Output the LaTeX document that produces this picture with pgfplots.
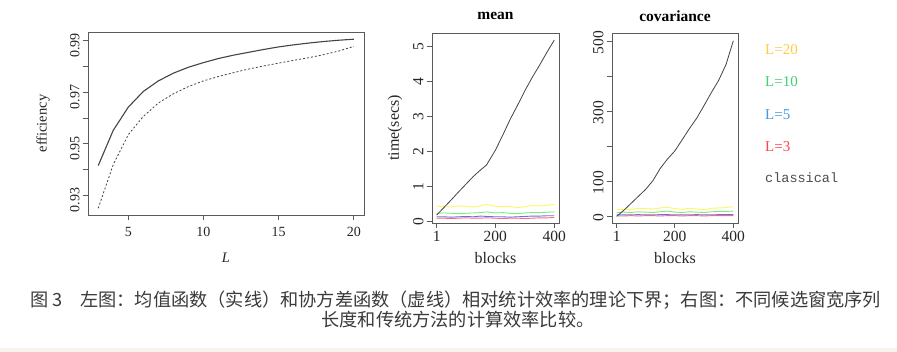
\documentclass[border=0pt]{standalone}
\usepackage{fontspec}
\setmainfont{Liberation Serif}
\newfontfamily\cjk{Noto Sans CJK SC}
\newfontfamily\monof{Liberation Mono}
\usepackage{pgfplots}
\pgfplotsset{compat=1.18}
\definecolor{axgray}{HTML}{5A5A5A}
\definecolor{linegray}{HTML}{444444}
\definecolor{ly}{HTML}{FFF566}
\definecolor{lg}{HTML}{77EE77}
\definecolor{lb}{HTML}{6A6AFF}
\definecolor{lr}{HTML}{FF6A6A}
\definecolor{ty}{HTML}{FFCC44}
\definecolor{tg}{HTML}{44CC77}
\definecolor{tb}{HTML}{4499DD}
\definecolor{tr}{HTML}{FF4455}
\definecolor{band}{HTML}{F7F3EF}
\definecolor{captxt}{HTML}{3A3A3A}
\pgfplotsset{rstyle/.style={
  scale only axis, anchor=south west,
  axis line style={axgray, line width=0.8pt},
  every tick/.style={axgray, line width=0.8pt},
  tick align=outside, major tick length=5pt,
  xtick pos=bottom, ytick pos=left,
  minor tick num=0, scaled ticks=false,
  /pgf/number format/assume math mode=true,
  yticklabel style={rotate=90},
  tick label style={text=black!85},
  label style={text=black!85},
}}
\pgfplotstableread{
x    cl     y20   g10   b5    r3
1    0.17   0.42  0.22  0.12  0.08
25   0.38   0.41  0.23  0.12  0.08
50   0.60   0.40  0.22  0.11  0.07
75   0.83   0.43  0.21  0.12  0.08
100  1.05   0.42  0.22  0.13  0.09
125  1.27   0.40  0.23  0.12  0.08
150  1.46   0.44  0.24  0.14  0.08
170  1.60   0.47  0.26  0.13  0.09
200  2.02   0.42  0.23  0.12  0.08
225  2.45   0.41  0.24  0.12  0.07
250  2.90   0.42  0.22  0.11  0.08
275  3.30   0.38  0.21  0.12  0.08
300  3.72   0.41  0.23  0.13  0.07
325  4.10   0.44  0.24  0.14  0.08
350  4.45   0.43  0.24  0.14  0.09
375  4.82   0.45  0.25  0.15  0.09
400  5.17   0.48  0.26  0.15  0.10
}\meantab
\pgfplotstableread{
x    cl    y20  g10  b5  r3
1    1     20   12   5   2
25   18    21   13   5   2
50   38    20   12   5   3
75   58    24   14   6   2
100  78    23   13   5   3
125  103   22   12   5   3
150  138   25   14   6   2
175  165   27   16   6   3
200  188   23   13   5   3
225  220   21   12   5   2
250  252   24   14   5   3
275  282   22   13   6   3
300  318   20   12   5   2
325  355   24   14   5   3
350  390   25   15   6   3
375  435   26   15   6   3
400  503   29   16   6   3
}\covtab
\begin{document}
\begin{tikzpicture}
\fill[white] (0pt,0pt) rectangle (897pt,352pt);
\fill[band] (0pt,0pt) rectangle (897pt,4pt);
\path[use as bounding box] (0pt,0pt) rectangle (897pt,352pt);
% left panel
\begin{axis}[rstyle, at={(88pt,137pt)}, width=276pt, height=183pt,
  xmin=2.32, xmax=20.68, ymin=0.9223, ymax=0.9934,
  xtick={5,10,15,20},
  ytick={0.93,0.94,0.95,0.96,0.97,0.98,0.99},
  yticklabels={0.93,,0.95,,0.97,,0.99},
  tick label style={font=\fontsize{14}{14}\selectfont},
  yticklabel style={xshift=-5pt},
  xticklabel style={yshift=-4pt},
  xlabel={\textit{L}}, ylabel={efficiency},
  label style={font=\fontsize{14.5}{14.5}\selectfont},
  xlabel style={at={(axis description cs:0.5,-0.235)}, anchor=center},
  ylabel style={at={(axis description cs:-0.163,0.5)}, anchor=center, rotate=0},
]
\addplot[linegray, line width=1.1pt] coordinates {
(3,0.9415)(4,0.9552)(5,0.9642)(6,0.9703)(7,0.9744)(8,0.9774)(9,0.9797)(10,0.9815)
(11,0.9831)(12,0.9844)(13,0.9855)(14,0.9866)(15,0.9876)(16,0.9884)(17,0.9891)
(18,0.9897)(19,0.9902)(20,0.9906)};
\addplot[linegray, line width=0.8pt, dashed, dash pattern=on 2pt off 2pt] coordinates {
(3,0.9249)(4,0.9419)(5,0.9535)(6,0.9606)(7,0.9658)(8,0.9694)(9,0.9722)(10,0.9744)
(11,0.9761)(12,0.9776)(13,0.9790)(14,0.9802)(15,0.9813)(16,0.9824)(17,0.9834)
(18,0.9846)(19,0.9860)(20,0.9878)};
\end{axis}
% mean panel
\begin{axis}[rstyle, at={(432pt,129pt)}, width=127pt, height=190pt,
  xmin=-14.96, xmax=415.96, ymin=-0.057, ymax=5.37,
  xtick={1,200,400}, ytick={0,1,2,3,4,5},
  tick label style={font=\fontsize{15.5}{15.5}\selectfont},
  yticklabel style={xshift=-1pt},
  xlabel={blocks}, ylabel={time(secs)}, title={mean},
  label style={font=\fontsize{16}{16}\selectfont},
  xlabel style={at={(axis description cs:0.5,-0.184)}, anchor=center},
  ylabel style={at={(axis description cs:-0.291,0.5)}, anchor=center, rotate=0},
  title style={at={(axis description cs:0.5,1.059)}, anchor=center, font=\bfseries\fontsize{15.5}{15.5}\selectfont},
]
\addplot[ly, line width=0.9pt] table[x=x,y=y20] {\meantab};
\addplot[lg, line width=0.9pt] table[x=x,y=g10] {\meantab};
\addplot[lb, line width=0.9pt] table[x=x,y=b5] {\meantab};
\addplot[lr, line width=0.9pt] table[x=x,y=r3] {\meantab};
\addplot[linegray, line width=0.8pt] table[x=x,y=cl] {\meantab};
\end{axis}
% covariance panel
\begin{axis}[rstyle, at={(612pt,129pt)}, width=126pt, height=190pt,
  xmin=-14.96, xmax=415.96, ymin=-18, ymax=525,
  xtick={1,200,400}, ytick={0,100,200,300,400,500},
  yticklabels={0,100,,300,,500},
  tick label style={font=\fontsize{15.5}{15.5}\selectfont},
  yticklabel style={xshift=-1pt},
  xlabel={blocks}, title={covariance},
  label style={font=\fontsize{16}{16}\selectfont},
  xlabel style={at={(axis description cs:0.5,-0.184)}, anchor=center},
  title style={at={(axis description cs:0.5,1.059)}, anchor=center, font=\bfseries\fontsize{15.5}{15.5}\selectfont},
]
\addplot[ly, line width=0.9pt] table[x=x,y=y20] {\covtab};
\addplot[lg, line width=0.9pt] table[x=x,y=g10] {\covtab};
\addplot[lb, line width=0.9pt] table[x=x,y=b5] {\covtab};
\addplot[lr, line width=0.9pt] table[x=x,y=r3] {\covtab};
\addplot[linegray, line width=0.8pt] table[x=x,y=cl] {\covtab};
\end{axis}
% legend
\begin{scope}[every node/.style={anchor=west, inner sep=0pt, font=\fontsize{15}{15}\selectfont}]
\node[text=ty] at (765pt,302pt) {L=20};
\node[text=tg] at (765pt,270pt) {L=10};
\node[text=tb] at (765pt,237pt) {L=5};
\node[text=tr] at (765pt,205pt) {L=3};
\node[text=black!70, font=\monof\fontsize{13.5}{13.5}\selectfont] at (765pt,174pt) {classical};
\end{scope}
% caption
\node[font=\cjk\fontsize{18.2}{18.2}\selectfont, text=captxt, inner sep=0pt] at (456pt,52pt)
  {图\,3\quad 左图：均值函数（实线）和协方差函数（虚线）相对统计效率的理论下界；右图：不同候选窗宽序列};
\node[font=\cjk\fontsize{18.2}{18.2}\selectfont, text=captxt, inner sep=0pt] at (458pt,32pt)
  {长度和传统方法的计算效率比较。};
\end{tikzpicture}
\end{document}
